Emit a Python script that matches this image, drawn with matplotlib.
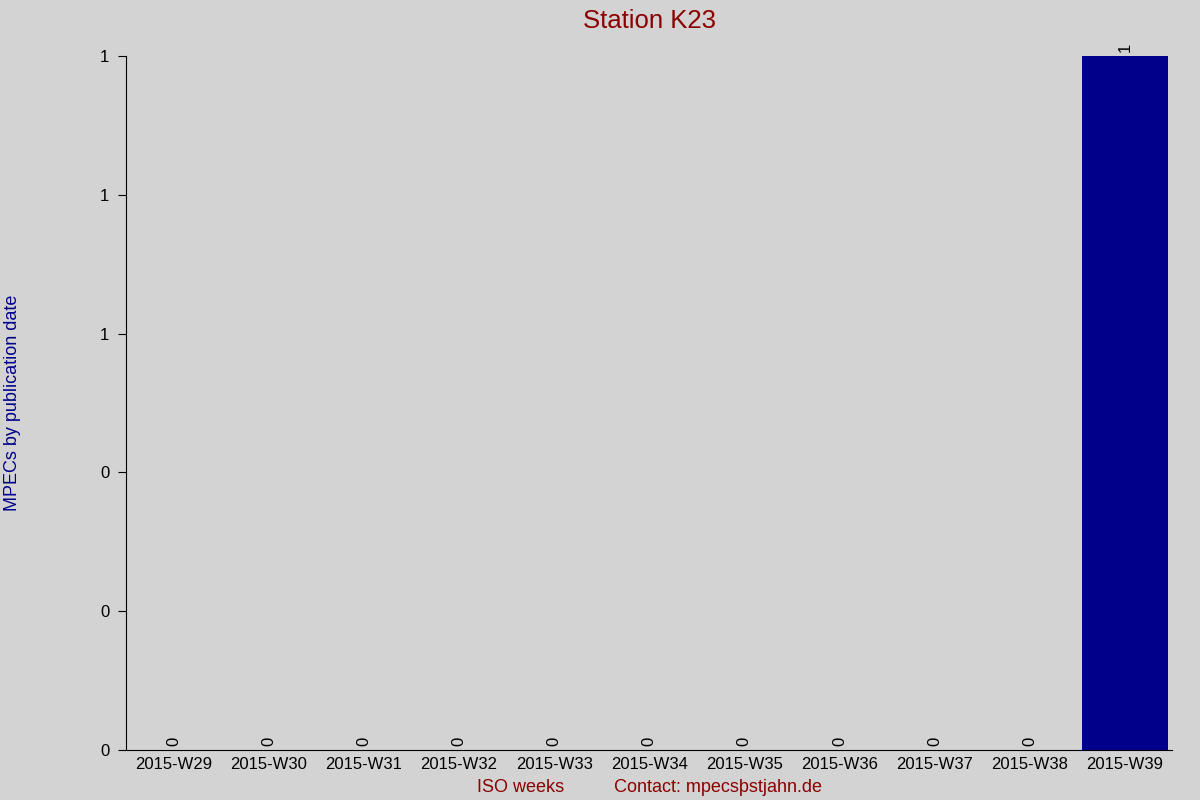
import matplotlib.pyplot as plt
from matplotlib.ticker import FormatStrFormatter

weeks = ["2015-W29", "2015-W30", "2015-W31", "2015-W32", "2015-W33", "2015-W34",
         "2015-W35", "2015-W36", "2015-W37", "2015-W38", "2015-W39"]
mpecs = [0, 0, 0, 0, 0, 0, 0, 0, 0, 0, 1]

plt.rcParams["font.family"] = ["Liberation Sans", "DejaVu Sans"]

fig = plt.figure(figsize=(12, 8), dpi=100, facecolor="lightgray")
ax = fig.add_axes([0.105, 0.0625, 0.872, 0.8675])
ax.set_facecolor("lightgray")

positions = range(len(weeks))
bars = ax.bar(positions, mpecs, width=0.9, color="darkblue")

for bar, value in zip(bars, mpecs):
    ax.annotate(str(value), (bar.get_x() + bar.get_width() / 2, value),
                xytext=(0, 3), textcoords="offset points",
                ha="center", va="bottom", rotation=90, fontsize=12)

ax.set_xlim(-0.5, 10.5)
ax.set_ylim(0, 1)
ax.set_xticks(list(positions))
ax.set_xticklabels(weeks, fontsize=12)
ax.set_yticks([0, 0.2, 0.4, 0.6, 0.8, 1.0])
ax.yaxis.set_major_formatter(FormatStrFormatter("%.0f"))
ax.tick_params(axis="y", labelsize=12, length=6, direction="out", pad=6)
ax.tick_params(axis="x", length=0, pad=5)

for side in ["top", "right"]:
    ax.spines[side].set_visible(False)

ax.set_title("Station K23", color="darkred", fontsize=18.5, pad=20)
ax.set_xlabel("ISO weeks          Contact: mpecsþstjahn.de", color="darkred",
              fontsize=13, labelpad=5)
ax.set_ylabel("MPECs by publication date", color="darkblue", fontsize=13)
ax.yaxis.set_label_coords(-0.1, 0.5)

fig.savefig("out.png", dpi=100, facecolor="lightgray")
